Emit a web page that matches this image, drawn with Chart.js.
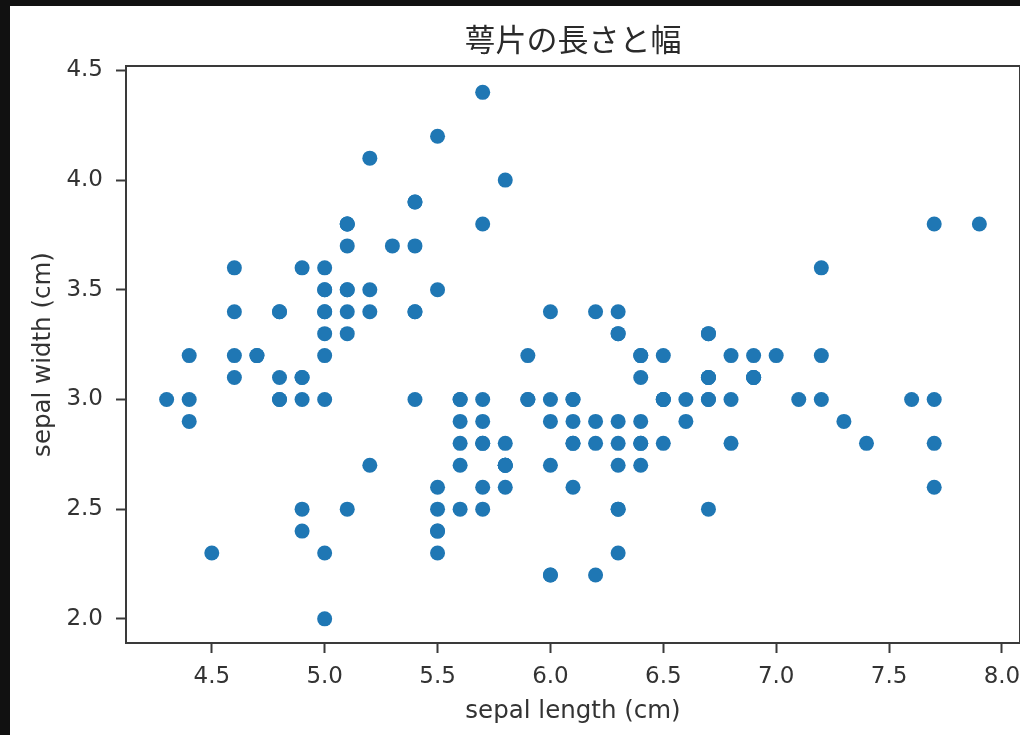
<!DOCTYPE html>
<html>
<head>
<meta charset="utf-8">
<script src="https://cdn.jsdelivr.net/npm/chart.js@4"></script>
<style>
  body { margin: 0; background: #111; }
  #myChart { position: absolute; left: 10px; top: 6px; background: #fff; }
</style>
</head>
<body>
<canvas id="myChart" width="1010" height="729"></canvas>
<script>
// iris: sepal length / sepal width (150 samples)
const sepalLength = [
    5.1, 4.9, 4.7, 4.6, 5.0, 5.4, 4.6, 5.0, 4.4, 4.9, 5.4, 4.8, 4.8, 4.3, 5.8, 5.7, 5.4, 5.1, 5.7, 5.1,
    5.4, 5.1, 4.6, 5.1, 4.8, 5.0, 5.0, 5.2, 5.2, 4.7, 4.8, 5.4, 5.2, 5.5, 4.9, 5.0, 5.5, 4.9, 4.4, 5.1,
    5.0, 4.5, 4.4, 5.0, 5.1, 4.8, 5.1, 4.6, 5.3, 5.0,
    7.0, 6.4, 6.9, 5.5, 6.5, 5.7, 6.3, 4.9, 6.6, 5.2, 5.0, 5.9, 6.0, 6.1, 5.6, 6.7, 5.6, 5.8, 6.2, 5.6,
    5.9, 6.1, 6.3, 6.1, 6.4, 6.6, 6.8, 6.7, 6.0, 5.7, 5.5, 5.5, 5.8, 6.0, 5.4, 6.0, 6.7, 6.3, 5.6, 5.5,
    5.5, 6.1, 5.8, 5.0, 5.6, 5.7, 5.7, 6.2, 5.1, 5.7,
    6.3, 5.8, 7.1, 6.3, 6.5, 7.6, 4.9, 7.3, 6.7, 7.2, 6.5, 6.4, 6.8, 5.7, 5.8, 6.4, 6.5, 7.7, 7.7, 6.0,
    6.9, 5.6, 7.7, 6.3, 6.7, 7.2, 6.2, 6.1, 6.4, 7.2, 7.4, 7.9, 6.4, 6.3, 6.1, 7.7, 6.3, 6.4, 6.0, 6.9,
    6.7, 6.9, 5.8, 6.8, 6.7, 6.7, 6.3, 6.5, 6.2, 5.9
];
const sepalWidth = [
    3.5, 3.0, 3.2, 3.1, 3.6, 3.9, 3.4, 3.4, 2.9, 3.1, 3.7, 3.4, 3.0, 3.0, 4.0, 4.4, 3.9, 3.5, 3.8, 3.8,
    3.4, 3.7, 3.6, 3.3, 3.4, 3.0, 3.4, 3.5, 3.4, 3.2, 3.1, 3.4, 4.1, 4.2, 3.1, 3.2, 3.5, 3.6, 3.0, 3.4,
    3.5, 2.3, 3.2, 3.5, 3.8, 3.0, 3.8, 3.2, 3.7, 3.3,
    3.2, 3.2, 3.1, 2.3, 2.8, 2.8, 3.3, 2.4, 2.9, 2.7, 2.0, 3.0, 2.2, 2.9, 2.9, 3.1, 3.0, 2.7, 2.2, 2.5,
    3.2, 2.8, 2.5, 2.8, 2.9, 3.0, 2.8, 3.0, 2.9, 2.6, 2.4, 2.4, 2.7, 2.7, 3.0, 3.4, 3.1, 2.3, 3.0, 2.5,
    2.6, 3.0, 2.6, 2.3, 2.7, 3.0, 2.9, 2.9, 2.5, 2.8,
    3.3, 2.7, 3.0, 2.9, 3.0, 3.0, 2.5, 2.9, 2.5, 3.6, 3.2, 2.7, 3.0, 2.5, 2.8, 3.2, 3.0, 3.8, 2.6, 2.2,
    3.2, 2.8, 2.8, 2.7, 3.3, 3.2, 2.8, 3.0, 2.8, 3.0, 2.8, 3.8, 2.8, 2.8, 2.6, 3.0, 3.4, 3.1, 3.0, 3.1,
    3.1, 3.1, 2.7, 3.2, 3.3, 3.0, 2.5, 3.0, 3.4, 3.0
];
const xTicks = [4.5, 5.0, 5.5, 6.0, 6.5, 7.0, 7.5, 8.0];
const yTicks = [2.0, 2.5, 3.0, 3.5, 4.0, 4.5];

const titleText = '萼片の長さと幅';
const xLabel = 'sepal length (cm)';
const yLabel = 'sepal width (cm)';

window.onload = function () {
    const points = sepalLength.map((v, i) => ({ x: v, y: sepalWidth[i] }));
    showChart(points);
};

function showChart(points) {
    const ctx = document.getElementById('myChart');
    const tickFont = { family: 'DejaVu Sans', size: 23 };
    const labelFont = { family: 'DejaVu Sans', size: 24.5 };
    const axisColor = '#3a3a3a';

    // box round the plot area + title centred over the plot (like matplotlib)
    const frame = {
        id: 'frame',
        afterDraw(chart) {
            const a = chart.chartArea;
            const c = chart.ctx;
            c.save();
            c.strokeStyle = axisColor;
            c.lineWidth = 2;
            c.strokeRect(a.left, a.top, a.right - a.left, a.bottom - a.top);
            c.fillStyle = '#2a2a2a';
            c.font = '31px "Noto Sans CJK JP"';
            c.textAlign = 'center';
            c.textBaseline = 'middle';
            c.fillText(titleText, (a.left + a.right) / 2, 33);
            c.restore();
        }
    };

    new Chart(ctx, {
        type: 'scatter',
        data: {
            datasets: [{
                data: points,
                backgroundColor: '#1f77b4',
                borderWidth: 0,
                pointRadius: 7.5,
                pointHoverRadius: 7.5
            }]
        },
        options: {
            responsive: false,
            animation: false,
            layout: { autoPadding: false, padding: { left: 0, right: 0, top: 60, bottom: 0 } },
            plugins: {
                legend: { display: false },
                tooltip: { enabled: false },
                title: { display: false }
            },
            scales: {
                x: {
                    type: 'linear',
                    min: 4.12,
                    max: 8.08,
                    afterBuildTicks: s => { s.ticks = xTicks.map(v => ({ value: v })); },
                    afterFit: s => { s.height = 92; s.paddingLeft = 0; s.paddingRight = 0; },
                    ticks: {
                        font: tickFont,
                        color: '#333',
                        padding: 10,
                        maxRotation: 0,
                        callback: v => v.toFixed(1)
                    },
                    grid: { drawOnChartArea: false, tickLength: 10, tickWidth: 2, color: axisColor },
                    border: { color: axisColor, width: 2 },
                    title: {
                        display: true,
                        text: xLabel,
                        color: '#333',
                        font: labelFont,
                        padding: { top: 0, bottom: 9 }
                    }
                },
                y: {
                    type: 'linear',
                    min: 1.89,
                    max: 4.52,
                    afterBuildTicks: s => { s.ticks = yTicks.map(v => ({ value: v })); },
                    afterFit: s => { s.width = 116; s.paddingTop = 0; s.paddingBottom = 0; },
                    ticks: {
                        font: tickFont,
                        color: '#333',
                        padding: 13,
                        callback: v => v.toFixed(1)
                    },
                    grid: { drawOnChartArea: false, tickLength: 10, tickWidth: 2, color: axisColor },
                    border: { color: axisColor, width: 2 },
                    title: {
                        display: true,
                        text: yLabel,
                        color: '#333',
                        font: labelFont,
                        padding: { top: 19, bottom: 0 }
                    }
                }
            }
        },
        plugins: [frame]
    });
}
</script>
</body>
</html>
